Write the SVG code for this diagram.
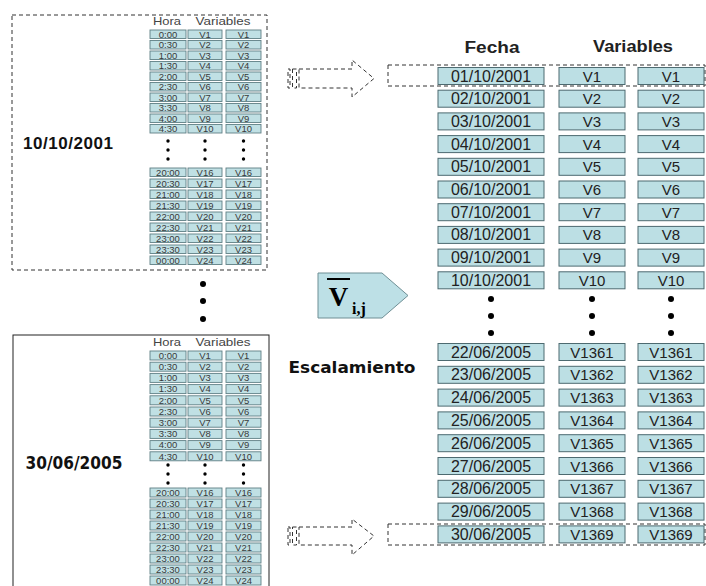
<svg xmlns="http://www.w3.org/2000/svg" width="706" height="586" viewBox="0 0 706 586">
<style>
.sc{fill:#c0e0e4;stroke:#5f7f85;stroke-width:0.9}
.st{font-family:"Liberation Sans",Arial,sans-serif;font-size:9.5px;fill:#3a3a3a;text-anchor:middle}
.sh{font-family:"Liberation Sans",Arial,sans-serif;font-size:10.5px;fill:#444;text-anchor:middle}
.bc{fill:#bcdfe4;stroke:#4d6a70;stroke-width:1}
.bt{font-family:"Liberation Sans",Arial,sans-serif;font-size:15px;fill:#222;text-anchor:middle}
.bd{font-size:16px}
.dash{fill:none;stroke:#333;stroke-width:1;stroke-dasharray:4 3}
.dot{fill:#000}
</style>
<rect width="706" height="586" fill="#fff"/>

<g id="day-10-10-2001">
<rect x="12" y="15" width="255" height="255" class="dash"/>
<text x="68" y="149" font-family="Liberation Sans,Arial,sans-serif" font-weight="bold" font-size="17" fill="#111" text-anchor="middle" textLength="90">10/10/2001</text>
<text x="167" y="25" class="sh" textLength="28" lengthAdjust="spacingAndGlyphs">Hora</text><text x="223" y="25" class="sh" textLength="55" lengthAdjust="spacingAndGlyphs">Variables</text>
<rect x="150" y="30" width="36" height="8.5" class="sc"/><rect x="188" y="30" width="34" height="8.5" class="sc"/><rect x="226" y="30" width="35" height="8.5" class="sc"/>
<text x="168" y="37.5" class="st">0:00</text><text x="205" y="37.5" class="st">V1</text><text x="243.5" y="37.5" class="st">V1</text>
<rect x="150" y="40.5" width="36" height="8.5" class="sc"/><rect x="188" y="40.5" width="34" height="8.5" class="sc"/><rect x="226" y="40.5" width="35" height="8.5" class="sc"/>
<text x="168" y="48" class="st">0:30</text><text x="205" y="48" class="st">V2</text><text x="243.5" y="48" class="st">V2</text>
<rect x="150" y="51" width="36" height="8.5" class="sc"/><rect x="188" y="51" width="34" height="8.5" class="sc"/><rect x="226" y="51" width="35" height="8.5" class="sc"/>
<text x="168" y="58.5" class="st">1:00</text><text x="205" y="58.5" class="st">V3</text><text x="243.5" y="58.5" class="st">V3</text>
<rect x="150" y="61.5" width="36" height="8.5" class="sc"/><rect x="188" y="61.5" width="34" height="8.5" class="sc"/><rect x="226" y="61.5" width="35" height="8.5" class="sc"/>
<text x="168" y="69" class="st">1:30</text><text x="205" y="69" class="st">V4</text><text x="243.5" y="69" class="st">V4</text>
<rect x="150" y="72" width="36" height="8.5" class="sc"/><rect x="188" y="72" width="34" height="8.5" class="sc"/><rect x="226" y="72" width="35" height="8.5" class="sc"/>
<text x="168" y="79.5" class="st">2:00</text><text x="205" y="79.5" class="st">V5</text><text x="243.5" y="79.5" class="st">V5</text>
<rect x="150" y="82.5" width="36" height="8.5" class="sc"/><rect x="188" y="82.5" width="34" height="8.5" class="sc"/><rect x="226" y="82.5" width="35" height="8.5" class="sc"/>
<text x="168" y="90" class="st">2:30</text><text x="205" y="90" class="st">V6</text><text x="243.5" y="90" class="st">V6</text>
<rect x="150" y="93" width="36" height="8.5" class="sc"/><rect x="188" y="93" width="34" height="8.5" class="sc"/><rect x="226" y="93" width="35" height="8.5" class="sc"/>
<text x="168" y="100.5" class="st">3:00</text><text x="205" y="100.5" class="st">V7</text><text x="243.5" y="100.5" class="st">V7</text>
<rect x="150" y="103.5" width="36" height="8.5" class="sc"/><rect x="188" y="103.5" width="34" height="8.5" class="sc"/><rect x="226" y="103.5" width="35" height="8.5" class="sc"/>
<text x="168" y="111" class="st">3:30</text><text x="205" y="111" class="st">V8</text><text x="243.5" y="111" class="st">V8</text>
<rect x="150" y="114" width="36" height="8.5" class="sc"/><rect x="188" y="114" width="34" height="8.5" class="sc"/><rect x="226" y="114" width="35" height="8.5" class="sc"/>
<text x="168" y="121.5" class="st">4:00</text><text x="205" y="121.5" class="st">V9</text><text x="243.5" y="121.5" class="st">V9</text>
<rect x="150" y="124.5" width="36" height="8.5" class="sc"/><rect x="188" y="124.5" width="34" height="8.5" class="sc"/><rect x="226" y="124.5" width="35" height="8.5" class="sc"/>
<text x="168" y="132" class="st">4:30</text><text x="205" y="132" class="st">V10</text><text x="243.5" y="132" class="st">V10</text>
<circle cx="168" cy="141" r="1.7" class="dot"/><circle cx="205" cy="141" r="1.7" class="dot"/><circle cx="243.5" cy="141" r="1.7" class="dot"/>
<circle cx="168" cy="150" r="1.7" class="dot"/><circle cx="205" cy="150" r="1.7" class="dot"/><circle cx="243.5" cy="150" r="1.7" class="dot"/>
<circle cx="168" cy="159" r="1.7" class="dot"/><circle cx="205" cy="159" r="1.7" class="dot"/><circle cx="243.5" cy="159" r="1.7" class="dot"/>
<rect x="150" y="168" width="36" height="8.5" class="sc"/><rect x="188" y="168" width="34" height="8.5" class="sc"/><rect x="226" y="168" width="35" height="8.5" class="sc"/>
<text x="168" y="175.5" class="st">20:00</text><text x="205" y="175.5" class="st">V16</text><text x="243.5" y="175.5" class="st">V16</text>
<rect x="150" y="179" width="36" height="8.5" class="sc"/><rect x="188" y="179" width="34" height="8.5" class="sc"/><rect x="226" y="179" width="35" height="8.5" class="sc"/>
<text x="168" y="186.5" class="st">20:30</text><text x="205" y="186.5" class="st">V17</text><text x="243.5" y="186.5" class="st">V17</text>
<rect x="150" y="190" width="36" height="8.5" class="sc"/><rect x="188" y="190" width="34" height="8.5" class="sc"/><rect x="226" y="190" width="35" height="8.5" class="sc"/>
<text x="168" y="197.5" class="st">21:00</text><text x="205" y="197.5" class="st">V18</text><text x="243.5" y="197.5" class="st">V18</text>
<rect x="150" y="201" width="36" height="8.5" class="sc"/><rect x="188" y="201" width="34" height="8.5" class="sc"/><rect x="226" y="201" width="35" height="8.5" class="sc"/>
<text x="168" y="208.5" class="st">21:30</text><text x="205" y="208.5" class="st">V19</text><text x="243.5" y="208.5" class="st">V19</text>
<rect x="150" y="212" width="36" height="8.5" class="sc"/><rect x="188" y="212" width="34" height="8.5" class="sc"/><rect x="226" y="212" width="35" height="8.5" class="sc"/>
<text x="168" y="219.5" class="st">22:00</text><text x="205" y="219.5" class="st">V20</text><text x="243.5" y="219.5" class="st">V20</text>
<rect x="150" y="223" width="36" height="8.5" class="sc"/><rect x="188" y="223" width="34" height="8.5" class="sc"/><rect x="226" y="223" width="35" height="8.5" class="sc"/>
<text x="168" y="230.5" class="st">22:30</text><text x="205" y="230.5" class="st">V21</text><text x="243.5" y="230.5" class="st">V21</text>
<rect x="150" y="234" width="36" height="8.5" class="sc"/><rect x="188" y="234" width="34" height="8.5" class="sc"/><rect x="226" y="234" width="35" height="8.5" class="sc"/>
<text x="168" y="241.5" class="st">23:00</text><text x="205" y="241.5" class="st">V22</text><text x="243.5" y="241.5" class="st">V22</text>
<rect x="150" y="245" width="36" height="8.5" class="sc"/><rect x="188" y="245" width="34" height="8.5" class="sc"/><rect x="226" y="245" width="35" height="8.5" class="sc"/>
<text x="168" y="252.5" class="st">23:30</text><text x="205" y="252.5" class="st">V23</text><text x="243.5" y="252.5" class="st">V23</text>
<rect x="150" y="256" width="36" height="8.5" class="sc"/><rect x="188" y="256" width="34" height="8.5" class="sc"/><rect x="226" y="256" width="35" height="8.5" class="sc"/>
<text x="168" y="263.5" class="st">00:00</text><text x="205" y="263.5" class="st">V24</text><text x="243.5" y="263.5" class="st">V24</text>
</g>

<g id="between-days">
<circle cx="203" cy="284" r="3" class="dot"/><circle cx="203" cy="301" r="3" class="dot"/><circle cx="203" cy="319" r="3" class="dot"/>
</g>

<g id="day-30-06-2005">
<rect x="13" y="335" width="256" height="260" fill="none" stroke="#222" stroke-width="1"/>
<text x="74" y="469" font-family="'DejaVu Sans Condensed','DejaVu Sans',sans-serif" font-weight="bold" font-size="17" fill="#111" text-anchor="middle" textLength="97" lengthAdjust="spacingAndGlyphs">30/06/2005</text>
<text x="167" y="346" class="sh" textLength="28" lengthAdjust="spacingAndGlyphs">Hora</text><text x="223" y="346" class="sh" textLength="55" lengthAdjust="spacingAndGlyphs">Variables</text>
<rect x="150" y="351" width="36" height="9" class="sc"/><rect x="188" y="351" width="34" height="9" class="sc"/><rect x="226" y="351" width="35" height="9" class="sc"/>
<text x="168" y="358.8" class="st">0:00</text><text x="205" y="358.8" class="st">V1</text><text x="243.5" y="358.8" class="st">V1</text>
<rect x="150" y="362.2" width="36" height="9" class="sc"/><rect x="188" y="362.2" width="34" height="9" class="sc"/><rect x="226" y="362.2" width="35" height="9" class="sc"/>
<text x="168" y="370" class="st">0:30</text><text x="205" y="370" class="st">V2</text><text x="243.5" y="370" class="st">V2</text>
<rect x="150" y="373.4" width="36" height="9" class="sc"/><rect x="188" y="373.4" width="34" height="9" class="sc"/><rect x="226" y="373.4" width="35" height="9" class="sc"/>
<text x="168" y="381.2" class="st">1:00</text><text x="205" y="381.2" class="st">V3</text><text x="243.5" y="381.2" class="st">V3</text>
<rect x="150" y="384.6" width="36" height="9" class="sc"/><rect x="188" y="384.6" width="34" height="9" class="sc"/><rect x="226" y="384.6" width="35" height="9" class="sc"/>
<text x="168" y="392.4" class="st">1:30</text><text x="205" y="392.4" class="st">V4</text><text x="243.5" y="392.4" class="st">V4</text>
<rect x="150" y="395.8" width="36" height="9" class="sc"/><rect x="188" y="395.8" width="34" height="9" class="sc"/><rect x="226" y="395.8" width="35" height="9" class="sc"/>
<text x="168" y="403.6" class="st">2:00</text><text x="205" y="403.6" class="st">V5</text><text x="243.5" y="403.6" class="st">V5</text>
<rect x="150" y="407" width="36" height="9" class="sc"/><rect x="188" y="407" width="34" height="9" class="sc"/><rect x="226" y="407" width="35" height="9" class="sc"/>
<text x="168" y="414.8" class="st">2:30</text><text x="205" y="414.8" class="st">V6</text><text x="243.5" y="414.8" class="st">V6</text>
<rect x="150" y="418.2" width="36" height="9" class="sc"/><rect x="188" y="418.2" width="34" height="9" class="sc"/><rect x="226" y="418.2" width="35" height="9" class="sc"/>
<text x="168" y="426" class="st">3:00</text><text x="205" y="426" class="st">V7</text><text x="243.5" y="426" class="st">V7</text>
<rect x="150" y="429.4" width="36" height="9" class="sc"/><rect x="188" y="429.4" width="34" height="9" class="sc"/><rect x="226" y="429.4" width="35" height="9" class="sc"/>
<text x="168" y="437.2" class="st">3:30</text><text x="205" y="437.2" class="st">V8</text><text x="243.5" y="437.2" class="st">V8</text>
<rect x="150" y="440.6" width="36" height="9" class="sc"/><rect x="188" y="440.6" width="34" height="9" class="sc"/><rect x="226" y="440.6" width="35" height="9" class="sc"/>
<text x="168" y="448.4" class="st">4:00</text><text x="205" y="448.4" class="st">V9</text><text x="243.5" y="448.4" class="st">V9</text>
<rect x="150" y="451.8" width="36" height="9" class="sc"/><rect x="188" y="451.8" width="34" height="9" class="sc"/><rect x="226" y="451.8" width="35" height="9" class="sc"/>
<text x="168" y="459.6" class="st">4:30</text><text x="205" y="459.6" class="st">V10</text><text x="243.5" y="459.6" class="st">V10</text>
<circle cx="168" cy="465" r="1.7" class="dot"/><circle cx="205" cy="465" r="1.7" class="dot"/><circle cx="243.5" cy="465" r="1.7" class="dot"/>
<circle cx="168" cy="474" r="1.7" class="dot"/><circle cx="205" cy="474" r="1.7" class="dot"/><circle cx="243.5" cy="474" r="1.7" class="dot"/>
<circle cx="168" cy="483" r="1.7" class="dot"/><circle cx="205" cy="483" r="1.7" class="dot"/><circle cx="243.5" cy="483" r="1.7" class="dot"/>
<rect x="150" y="488" width="36" height="9" class="sc"/><rect x="188" y="488" width="34" height="9" class="sc"/><rect x="226" y="488" width="35" height="9" class="sc"/>
<text x="168" y="495.8" class="st">20:00</text><text x="205" y="495.8" class="st">V16</text><text x="243.5" y="495.8" class="st">V16</text>
<rect x="150" y="499" width="36" height="9" class="sc"/><rect x="188" y="499" width="34" height="9" class="sc"/><rect x="226" y="499" width="35" height="9" class="sc"/>
<text x="168" y="506.8" class="st">20:30</text><text x="205" y="506.8" class="st">V17</text><text x="243.5" y="506.8" class="st">V17</text>
<rect x="150" y="510" width="36" height="9" class="sc"/><rect x="188" y="510" width="34" height="9" class="sc"/><rect x="226" y="510" width="35" height="9" class="sc"/>
<text x="168" y="517.8" class="st">21:00</text><text x="205" y="517.8" class="st">V18</text><text x="243.5" y="517.8" class="st">V18</text>
<rect x="150" y="521" width="36" height="9" class="sc"/><rect x="188" y="521" width="34" height="9" class="sc"/><rect x="226" y="521" width="35" height="9" class="sc"/>
<text x="168" y="528.8" class="st">21:30</text><text x="205" y="528.8" class="st">V19</text><text x="243.5" y="528.8" class="st">V19</text>
<rect x="150" y="532" width="36" height="9" class="sc"/><rect x="188" y="532" width="34" height="9" class="sc"/><rect x="226" y="532" width="35" height="9" class="sc"/>
<text x="168" y="539.8" class="st">22:00</text><text x="205" y="539.8" class="st">V20</text><text x="243.5" y="539.8" class="st">V20</text>
<rect x="150" y="543" width="36" height="9" class="sc"/><rect x="188" y="543" width="34" height="9" class="sc"/><rect x="226" y="543" width="35" height="9" class="sc"/>
<text x="168" y="550.8" class="st">22:30</text><text x="205" y="550.8" class="st">V21</text><text x="243.5" y="550.8" class="st">V21</text>
<rect x="150" y="554" width="36" height="9" class="sc"/><rect x="188" y="554" width="34" height="9" class="sc"/><rect x="226" y="554" width="35" height="9" class="sc"/>
<text x="168" y="561.8" class="st">23:00</text><text x="205" y="561.8" class="st">V22</text><text x="243.5" y="561.8" class="st">V22</text>
<rect x="150" y="565" width="36" height="9" class="sc"/><rect x="188" y="565" width="34" height="9" class="sc"/><rect x="226" y="565" width="35" height="9" class="sc"/>
<text x="168" y="572.8" class="st">23:30</text><text x="205" y="572.8" class="st">V23</text><text x="243.5" y="572.8" class="st">V23</text>
<rect x="150" y="576" width="36" height="9" class="sc"/><rect x="188" y="576" width="34" height="9" class="sc"/><rect x="226" y="576" width="35" height="9" class="sc"/>
<text x="168" y="583.8" class="st">00:00</text><text x="205" y="583.8" class="st">V24</text><text x="243.5" y="583.8" class="st">V24</text>
</g>

<g id="connectors">
<g id="arrow-top">
<rect x="288" y="69" width="2" height="19" class="dash"/>
<rect x="292.5" y="69" width="4" height="19" class="dash"/>
<path d="M299 69 H352 V60 L374 78.5 L352 97 V88 H299 Z" class="dash"/>
</g>
<g id="arrow-bottom">
<rect x="288" y="527" width="2" height="18" class="dash"/>
<rect x="292.5" y="527" width="4" height="18" class="dash"/>
<path d="M299 527 H352 V519 L374 536 L352 555 V545 H299 Z" class="dash"/>
</g>
</g>

<g id="scaling">
<path d="M318 273 H382 L408 295.5 L382 318 H318 Z" fill="#bde0e6" stroke="#6f8f95" stroke-width="1"/>
<line x1="327" y1="279" x2="350" y2="279" stroke="#000" stroke-width="2"/>
<text x="338.5" y="306" font-family="'Liberation Serif','Times New Roman',serif" font-weight="bold" font-size="27" fill="#000" text-anchor="middle">V</text>
<text x="352" y="314" font-family="'Liberation Serif','Times New Roman',serif" font-weight="bold" font-size="16" fill="#000">i,j</text>
<text x="352" y="373" font-family="'DejaVu Sans Condensed','DejaVu Sans',sans-serif" font-weight="bold" font-size="15" fill="#111" text-anchor="middle" textLength="127" lengthAdjust="spacingAndGlyphs">Escalamiento</text>
</g>

<g id="result-table">
<text x="492" y="53" font-family="'Liberation Sans',Arial,sans-serif" font-weight="bold" font-size="16" fill="#222" text-anchor="middle" textLength="55" lengthAdjust="spacingAndGlyphs">Fecha</text>
<text x="633" y="52" font-family="'Liberation Sans',Arial,sans-serif" font-weight="bold" font-size="16" fill="#222" text-anchor="middle" textLength="80" lengthAdjust="spacingAndGlyphs">Variables</text>
<rect x="388" y="65" width="317" height="21" class="dash"/>
<rect x="388" y="524" width="317" height="21" class="dash"/>
<rect x="438" y="67.5" width="106" height="17" class="bc"/><rect x="559" y="67.5" width="66" height="17" class="bc"/><rect x="638" y="67.5" width="66" height="17" class="bc"/>
<text x="491" y="81.5" class="bt bd">01/10/2001</text><text x="592" y="81.5" class="bt">V1</text><text x="671" y="81.5" class="bt">V1</text>
<rect x="438" y="90.2" width="106" height="17" class="bc"/><rect x="559" y="90.2" width="66" height="17" class="bc"/><rect x="638" y="90.2" width="66" height="17" class="bc"/>
<text x="491" y="104.2" class="bt bd">02/10/2001</text><text x="592" y="104.2" class="bt">V2</text><text x="671" y="104.2" class="bt">V2</text>
<rect x="438" y="112.9" width="106" height="17" class="bc"/><rect x="559" y="112.9" width="66" height="17" class="bc"/><rect x="638" y="112.9" width="66" height="17" class="bc"/>
<text x="491" y="126.9" class="bt bd">03/10/2001</text><text x="592" y="126.9" class="bt">V3</text><text x="671" y="126.9" class="bt">V3</text>
<rect x="438" y="135.6" width="106" height="17" class="bc"/><rect x="559" y="135.6" width="66" height="17" class="bc"/><rect x="638" y="135.6" width="66" height="17" class="bc"/>
<text x="491" y="149.6" class="bt bd">04/10/2001</text><text x="592" y="149.6" class="bt">V4</text><text x="671" y="149.6" class="bt">V4</text>
<rect x="438" y="158.3" width="106" height="17" class="bc"/><rect x="559" y="158.3" width="66" height="17" class="bc"/><rect x="638" y="158.3" width="66" height="17" class="bc"/>
<text x="491" y="172.3" class="bt bd">05/10/2001</text><text x="592" y="172.3" class="bt">V5</text><text x="671" y="172.3" class="bt">V5</text>
<rect x="438" y="181" width="106" height="17" class="bc"/><rect x="559" y="181" width="66" height="17" class="bc"/><rect x="638" y="181" width="66" height="17" class="bc"/>
<text x="491" y="195" class="bt bd">06/10/2001</text><text x="592" y="195" class="bt">V6</text><text x="671" y="195" class="bt">V6</text>
<rect x="438" y="203.7" width="106" height="17" class="bc"/><rect x="559" y="203.7" width="66" height="17" class="bc"/><rect x="638" y="203.7" width="66" height="17" class="bc"/>
<text x="491" y="217.7" class="bt bd">07/10/2001</text><text x="592" y="217.7" class="bt">V7</text><text x="671" y="217.7" class="bt">V7</text>
<rect x="438" y="226.4" width="106" height="17" class="bc"/><rect x="559" y="226.4" width="66" height="17" class="bc"/><rect x="638" y="226.4" width="66" height="17" class="bc"/>
<text x="491" y="240.4" class="bt bd">08/10/2001</text><text x="592" y="240.4" class="bt">V8</text><text x="671" y="240.4" class="bt">V8</text>
<rect x="438" y="249.1" width="106" height="17" class="bc"/><rect x="559" y="249.1" width="66" height="17" class="bc"/><rect x="638" y="249.1" width="66" height="17" class="bc"/>
<text x="491" y="263.1" class="bt bd">09/10/2001</text><text x="592" y="263.1" class="bt">V9</text><text x="671" y="263.1" class="bt">V9</text>
<rect x="438" y="271.8" width="106" height="17" class="bc"/><rect x="559" y="271.8" width="66" height="17" class="bc"/><rect x="638" y="271.8" width="66" height="17" class="bc"/>
<text x="491" y="285.8" class="bt bd">10/10/2001</text><text x="592" y="285.8" class="bt">V10</text><text x="671" y="285.8" class="bt">V10</text>
<circle cx="491" cy="299" r="3" class="dot"/><circle cx="592" cy="299" r="3" class="dot"/><circle cx="671" cy="299" r="3" class="dot"/>
<circle cx="491" cy="316" r="3" class="dot"/><circle cx="592" cy="316" r="3" class="dot"/><circle cx="671" cy="316" r="3" class="dot"/>
<circle cx="491" cy="333" r="3" class="dot"/><circle cx="592" cy="333" r="3" class="dot"/><circle cx="671" cy="333" r="3" class="dot"/>
<rect x="438" y="343.5" width="106" height="17" class="bc"/><rect x="559" y="343.5" width="66" height="17" class="bc"/><rect x="638" y="343.5" width="66" height="17" class="bc"/>
<text x="491" y="357.5" class="bt bd">22/06/2005</text><text x="592" y="357.5" class="bt">V1361</text><text x="671" y="357.5" class="bt">V1361</text>
<rect x="438" y="366.3" width="106" height="17" class="bc"/><rect x="559" y="366.3" width="66" height="17" class="bc"/><rect x="638" y="366.3" width="66" height="17" class="bc"/>
<text x="491" y="380.3" class="bt bd">23/06/2005</text><text x="592" y="380.3" class="bt">V1362</text><text x="671" y="380.3" class="bt">V1362</text>
<rect x="438" y="389.1" width="106" height="17" class="bc"/><rect x="559" y="389.1" width="66" height="17" class="bc"/><rect x="638" y="389.1" width="66" height="17" class="bc"/>
<text x="491" y="403.1" class="bt bd">24/06/2005</text><text x="592" y="403.1" class="bt">V1363</text><text x="671" y="403.1" class="bt">V1363</text>
<rect x="438" y="411.9" width="106" height="17" class="bc"/><rect x="559" y="411.9" width="66" height="17" class="bc"/><rect x="638" y="411.9" width="66" height="17" class="bc"/>
<text x="491" y="425.9" class="bt bd">25/06/2005</text><text x="592" y="425.9" class="bt">V1364</text><text x="671" y="425.9" class="bt">V1364</text>
<rect x="438" y="434.7" width="106" height="17" class="bc"/><rect x="559" y="434.7" width="66" height="17" class="bc"/><rect x="638" y="434.7" width="66" height="17" class="bc"/>
<text x="491" y="448.7" class="bt bd">26/06/2005</text><text x="592" y="448.7" class="bt">V1365</text><text x="671" y="448.7" class="bt">V1365</text>
<rect x="438" y="457.5" width="106" height="17" class="bc"/><rect x="559" y="457.5" width="66" height="17" class="bc"/><rect x="638" y="457.5" width="66" height="17" class="bc"/>
<text x="491" y="471.5" class="bt bd">27/06/2005</text><text x="592" y="471.5" class="bt">V1366</text><text x="671" y="471.5" class="bt">V1366</text>
<rect x="438" y="480.3" width="106" height="17" class="bc"/><rect x="559" y="480.3" width="66" height="17" class="bc"/><rect x="638" y="480.3" width="66" height="17" class="bc"/>
<text x="491" y="494.3" class="bt bd">28/06/2005</text><text x="592" y="494.3" class="bt">V1367</text><text x="671" y="494.3" class="bt">V1367</text>
<rect x="438" y="503.1" width="106" height="17" class="bc"/><rect x="559" y="503.1" width="66" height="17" class="bc"/><rect x="638" y="503.1" width="66" height="17" class="bc"/>
<text x="491" y="517.1" class="bt bd">29/06/2005</text><text x="592" y="517.1" class="bt">V1368</text><text x="671" y="517.1" class="bt">V1368</text>
<rect x="438" y="525.9" width="106" height="17" class="bc"/><rect x="559" y="525.9" width="66" height="17" class="bc"/><rect x="638" y="525.9" width="66" height="17" class="bc"/>
<text x="491" y="539.9" class="bt bd">30/06/2005</text><text x="592" y="539.9" class="bt">V1369</text><text x="671" y="539.9" class="bt">V1369</text>
</g>
</svg>
